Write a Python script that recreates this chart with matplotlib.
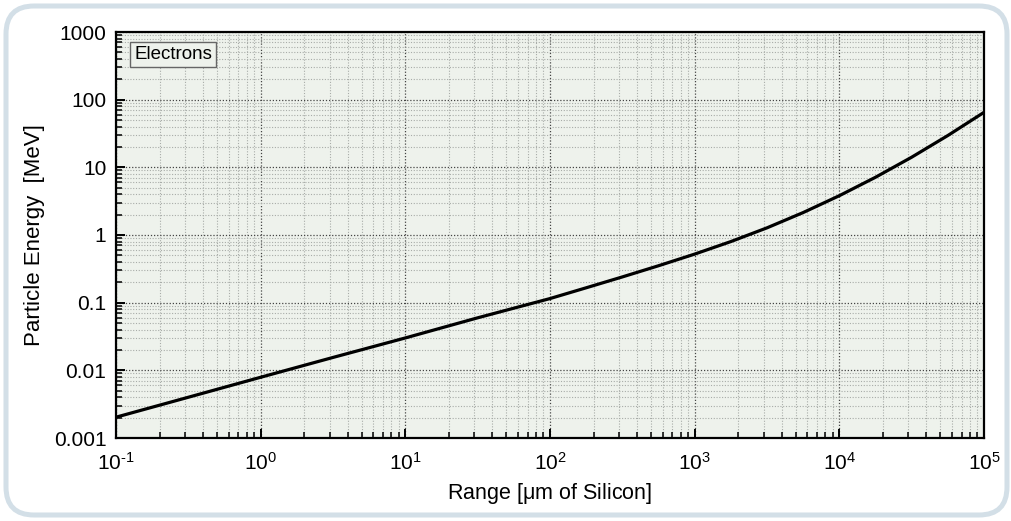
import numpy as np
import matplotlib
matplotlib.use("Agg")
import matplotlib.pyplot as plt
from matplotlib.patches import FancyBboxPatch
from matplotlib.ticker import LogLocator, FixedLocator, NullFormatter

plt.rcParams['font.family'] = ['Liberation Sans', 'DejaVu Sans']
plt.rcParams['mathtext.fontset'] = 'custom'
plt.rcParams['mathtext.rm'] = 'Liberation Sans'
plt.rcParams['mathtext.it'] = 'Liberation Sans'

# electron range in silicon (um) vs particle energy (MeV)
range_um = [0.1, 0.316, 1, 3.16, 10, 31.6, 100, 178, 316, 562, 1000, 1780,
            3160, 5620, 10000, 17800, 31600, 56200, 100000]
energy_mev = [0.00203, 0.0040, 0.0079, 0.0155, 0.0301, 0.0597, 0.115, 0.166,
              0.24, 0.351, 0.522, 0.80, 1.275, 2.145, 3.81, 7.14, 14.1, 29.5, 65.0]

x_ticks = [1e-1, 1e0, 1e1, 1e2, 1e3, 1e4, 1e5]
x_tick_labels = [r"$10^{\text{-}1}$", r"$10^{0}$", r"$10^{1}$", r"$10^{2}$",
                 r"$10^{3}$", r"$10^{4}$", r"$10^{5}$"]
y_ticks = [0.001, 0.01, 0.1, 1, 10, 100, 1000]
y_tick_labels = ["0.001", "0.01", "0.1", "1", "10", "100", "1000"]

BG = "#eef2ec"
BORDER = "#d3dfe7"

fig = plt.figure(figsize=(10.12, 5.21), dpi=100)
fig.patch.set_facecolor("white")

# rounded frame round the whole picture (pixel coords)
frame = FancyBboxPatch((6, 6), 1001, 509, boxstyle="round,pad=0,rounding_size=28",
                       transform=None, facecolor="none", edgecolor=BORDER,
                       linewidth=3.6, zorder=0)
fig.patches.append(frame)

ax = fig.add_axes([116 / 1012, (521 - 438) / 521, (984 - 116) / 1012, (438 - 32) / 521])
ax.set_facecolor(BG)
ax.set_xscale("log")
ax.set_yscale("log")
ax.set_xlim(1e-1, 1e5)
ax.set_ylim(1e-3, 1e3)

ax.plot(range_um, energy_mev, color="black", linewidth=2.3, zorder=5,
        solid_joinstyle="round")

#ticks
ax.xaxis.set_major_locator(FixedLocator(x_ticks))
ax.set_xticklabels(x_tick_labels)
ax.yaxis.set_major_locator(FixedLocator(y_ticks))
ax.set_yticklabels(y_tick_labels)
ax.xaxis.set_minor_locator(LogLocator(base=10, subs=np.arange(2, 10), numticks=20))
ax.yaxis.set_minor_locator(LogLocator(base=10, subs=np.arange(2, 10), numticks=20))
ax.xaxis.set_minor_formatter(NullFormatter())
ax.yaxis.set_minor_formatter(NullFormatter())

ax.tick_params(which="major", direction="in", length=6.5, width=1.4,
               labelsize=15, colors="black")
ax.tick_params(which="minor", direction="in", length=4.5, width=1.1)
ax.tick_params(axis="x", which="major", pad=10)
ax.tick_params(axis="y", which="major", pad=7)

#grid
ax.grid(True, which="major", linestyle=(0, (1, 1.5)), color="#444444", linewidth=0.9)
ax.grid(True, which="minor", linestyle=(0, (1, 1.5)), color="#a8aca8", linewidth=0.8)
ax.set_axisbelow(True)

for s in ax.spines.values():
    s.set_linewidth(1.6)
    s.set_color("black")

ax.set_xlabel(r"Range [$\mu$m of Silicon]", fontsize=15.5, labelpad=5)
ax.set_ylabel("Particle Energy  [MeV]", fontsize=16, labelpad=6)

ax.text(0.021, 0.965, "Electrons", transform=ax.transAxes, fontsize=13.5,
        ha="left", va="top", zorder=6,
        bbox=dict(boxstyle="square,pad=0.22", facecolor=BG, edgecolor="#666666",
                  linewidth=1.0))

fig.savefig("out.png", dpi=100)
